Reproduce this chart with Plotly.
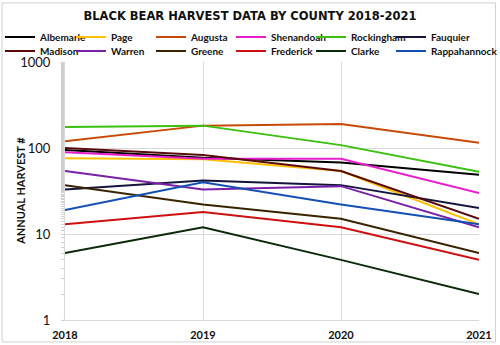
import plotly.graph_objects as go

years = [2018, 2019, 2020, 2021]
counties = ["Albemarle", "Page", "Augusta", "Shenandoah", "Rockingham", "Fauquier",
            "Madison", "Warren", "Greene", "Frederick", "Clarke", "Rappahannock"]
albemarle = [95, 77, 68, 49]
page = [76, 74, 54, 13]
augusta = [120, 182, 190, 115]
shenandoah = [89, 75, 75, 30]
rockingham = [175, 182, 108, 53]
fauquier = [33, 42, 37, 20]
madison = [100, 83, 54, 15]
warren = [54, 33, 36, 12]
greene = [37, 22, 15, 6]
frederick = [13, 18, 12, 5]
clarke = [6, 12, 5, 2]
rappahannock = [19, 40, 22, 13]
series = [albemarle, page, augusta, shenandoah, rockingham, fauquier,
          madison, warren, greene, frederick, clarke, rappahannock]
colors = ["#000000", "#FFC000", "#C84A08", "#E81ECC", "#3CC010", "#14143C",
          "#5A0A0A", "#7A1FA8", "#3A2400", "#D01010", "#0A2A0A", "#1450B4"]
y_ticks = [1, 10, 100, 1000]

# legend layout: 6 columns x 2 rows (pixel positions of each legend box)
legend_cols_px = [-6, 71, 151, 231, 311, 391]
legend_rows_px = [37, 51]

fig = go.Figure()
legend_layouts = {}
for i, (name, vals, col) in enumerate(zip(counties, series, colors)):
    lid = "legend" if i == 0 else f"legend{i + 1}"
    fig.add_trace(go.Scatter(x=years, y=vals, mode="lines", name=name,
                             legend=lid, line=dict(color=col, width=2)))
    r, c = divmod(i, 6)
    legend_layouts[lid] = dict(
        orientation="h", xanchor="left", yanchor="middle",
        xref="container", yref="container",
        x=legend_cols_px[c] / 500, y=1 - legend_rows_px[r] / 345,
        itemwidth=30,
        font=dict(family="Lato", size=10, weight="bold", color="#111111"),
        bgcolor="rgba(0,0,0,0)", borderwidth=0)

fig.update_layout(
    width=500, height=345,
    margin=dict(l=65, r=21, t=62, b=25, autoexpand=False),
    paper_bgcolor="white", plot_bgcolor="white",
    font=dict(family="Lato", color="#111111"),
    title=dict(text="BLACK BEAR HARVEST DATA BY COUNTY 2018-2021",
               x=0.5, xanchor="center", y=0.953, yanchor="middle",
               font=dict(family="DejaVu Sans", size=11.5, weight="bold", color="#111111")),
    showlegend=True,
    shapes=[dict(type="rect", xref="paper", yref="paper", x0=-0.152, x1=1.04,
                 y0=-0.085, y1=1.229, line=dict(color="#D0D0D0", width=1))],
    annotations=[dict(text="ANNUAL HARVEST #", textangle=-90, xref="paper", yref="paper",
                      x=-0.109, y=0.5, xanchor="center", yanchor="middle", showarrow=False,
                      font=dict(family="Lato", size=11, weight="bold", color="#111111"))],
    **legend_layouts,
)
fig.update_xaxes(range=[2018, 2021], tickvals=years, ticktext=[str(y) for y in years],
                 showgrid=True, gridcolor="#D9D9D9", gridwidth=1,
                 showline=True, linecolor="#D9D9D9", mirror=False, zeroline=False,
                 ticks="", ticklabelstandoff=5,
                 tickfont=dict(family="Lato", size=11, weight="bold", color="#111111"))
fig.update_yaxes(type="log", range=[0, 3], tickvals=y_ticks, ticktext=[str(v) for v in y_ticks],
                 showgrid=True, gridcolor="#D9D9D9", gridwidth=1,
                 showline=True, linecolor="#D9D9D9", zeroline=False,
                 ticks="outside", ticklen=0, ticklabelstandoff=11,
                 minor=dict(ticks="outside", ticklen=3, tickcolor="#D0D0D0", showgrid=False),
                 tickfont=dict(family="Lato", size=13, color="#111111"))

fig.write_html("out.html")
